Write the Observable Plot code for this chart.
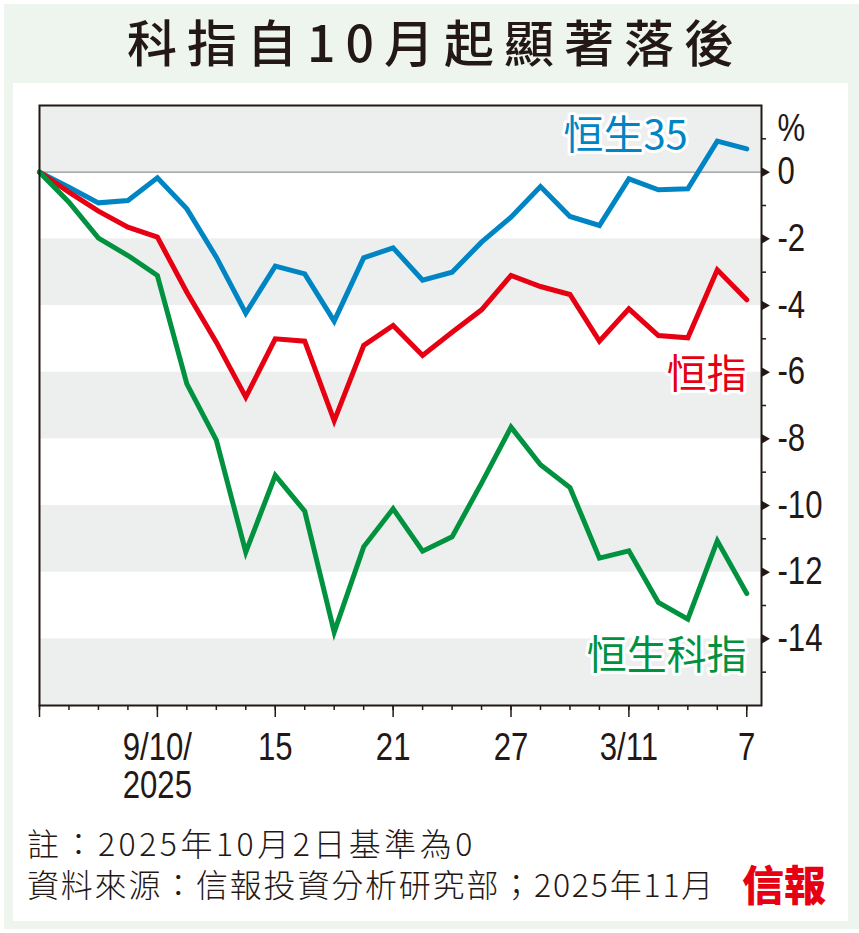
<!DOCTYPE html>
<html><head><meta charset="utf-8">
<script src="https://cdn.jsdelivr.net/npm/d3@7"></script>
<script src="https://cdn.jsdelivr.net/npm/@observablehq/plot@0.6"></script>
<style>
html,body{margin:0;padding:0;background:#fff;}
body{width:859px;height:933px;position:relative;overflow:hidden;}
#frame{position:absolute;left:4px;top:4px;width:855px;height:925px;background:#edf5ee;}
#panel{position:absolute;left:13px;top:83px;width:835px;height:838px;background:#fff;}
#title{position:absolute;left:0;top:-3px;width:859px;height:86px;line-height:86px;text-align:center;
  font-family:"Noto Sans CJK TC","Noto Sans CJK SC",sans-serif;font-weight:500;font-size:50px;letter-spacing:10px;padding-left:12px;box-sizing:border-box;color:#231815;}
#chart{position:absolute;left:0;top:83px;}
.note{position:absolute;left:27px;font-family:"Noto Sans CJK TC",sans-serif;font-weight:300;font-size:32px;line-height:36px;color:#231815;white-space:nowrap;}
#logo{position:absolute;left:742px;top:860px;font-family:"Noto Sans CJK TC",sans-serif;font-weight:900;font-size:42px;line-height:46px;color:#e60012;}
</style>
</head>
<body>
<div id="frame"></div>
<div id="panel"></div>
<div id="title">科指自10月起顯著落後</div>
<div id="chart"></div>
<div class="note" style="top:824px;letter-spacing:3.5px">註：2025年10月2日基準為0</div>
<div class="note" style="top:865px;letter-spacing:1.8px">資料來源：信報投資分析研究部；2025年11月</div>
<div id="logo">信報</div>
<script>
const dates = ["2/10","3/10","6/10","8/10","9/10","10/10","13/10","14/10","15/10","16/10","17/10","20/10","21/10","22/10","23/10","24/10","27/10","28/10","30/10","31/10","3/11","4/11","5/11","6/11","7/11"];
const hs35   = [0,-0.45,-0.92,-0.85,-0.17,-1.10,-2.55,-4.23,-2.82,-3.05,-4.47,-2.57,-2.27,-3.24,-3.00,-2.10,-1.35,-0.43,-1.33,-1.60,-0.20,-0.53,-0.50,0.93,0.70];
const hsi    = [0,-0.60,-1.17,-1.65,-1.95,-3.60,-5.10,-6.75,-5.00,-5.07,-7.46,-5.20,-4.60,-5.50,-4.80,-4.13,-3.10,-3.43,-3.67,-5.07,-4.10,-4.90,-4.97,-2.93,-3.83];
const hstech = [0,-0.90,-1.98,-2.50,-3.10,-6.35,-8.04,-11.40,-9.10,-10.17,-13.80,-11.24,-10.10,-11.37,-10.94,-9.33,-7.65,-8.78,-9.46,-11.58,-11.36,-12.91,-13.41,-11.06,-12.64];
const seriesNames = ["恒生35","恒指","恒生科指"];
const seriesColors = ["#0085c4","#e60012","#00923f"];
const tickDates = ["9/10","15/10","21/10","27/10","3/11","7/11"];
const tickTexts = ["9/10/\n2025","15","21","27","3/11","7"];
const yTicks = [0,-2,-4,-6,-8,-10,-12,-14];
const yMinor = [1,-1,-3,-5,-7,-9,-11,-13,-15];
const bandLows = [0,-4,-8,-12,-16];
const yDomain = [-16, 2];

const seriesValues = [hs35, hsi, hstech];
const rows = [];
seriesValues.forEach((vals, k) => vals.forEach((v, i) => rows.push({i, date: dates[i], series: seriesNames[k], value: v})));

const idx = dates.map((d, i) => i);
const tickIdx = tickDates.map(d => dates.indexOf(d));
const majorIdx = [0, ...tickIdx];
const labelFor = i => { const k = tickIdx.indexOf(i); return k < 0 ? "" : tickTexts[k]; };
const numFont = "'Liberation Sans',Arial,sans-serif";
const cjkFont = "'Noto Sans CJK TC','Noto Sans CJK SC',sans-serif";
const ink = "#231815";
const last = dates.length - 1;

const chart = Plot.plot({
  width: 859, height: 730,
  marginLeft: 39, marginRight: 98, marginTop: 22, marginBottom: 108,
  style: {background: "transparent", color: ink, overflow: "visible"},
  x: {type: "linear", domain: [0, last + 0.5]},
  y: {domain: yDomain},
  color: {domain: seriesNames, range: seriesColors},
  marks: [
    Plot.rect(bandLows, {y1: d => d, y2: d => d + 2, fill: "#edefee"}),
    Plot.ruleY([0], {stroke: "#8f8f8f", strokeWidth: 1.2}),
    Plot.line(rows, {x: "i", y: "value", z: "series", stroke: "series", strokeWidth: 5, strokeLinejoin: "miter", strokeMiterlimit: 4}),
    Plot.frame({stroke: ink, strokeWidth: 2}),
    Plot.axisX(idx, {anchor: "bottom", tickSize: 5, strokeWidth: 1.5, stroke: ink, tickFormat: () => "", label: null}),
    Plot.axisX(majorIdx, {anchor: "bottom", tickSize: 12, tickPadding: 16, strokeWidth: 1.5, stroke: ink, tickFormat: labelFor, label: null, fontSize: 38, fontFamily: numFont, lineHeight: 1.0, fill: ink}),
    Plot.axisY(yMinor, {anchor: "right", tickSize: 4, strokeWidth: 1.5, stroke: ink, tickFormat: () => "", label: null}),
    Plot.axisY(yTicks, {anchor: "right", tickSize: 0, tickPadding: 16, tickFormat: d => String(d), label: null, fontSize: 38, fontFamily: numFont, fill: ink}),
    Plot.dot(yTicks, {y: d => d, frameAnchor: "right", dx: 3, symbol: "triangle", rotate: 90, r: 3.5, fill: ink}),
    Plot.text(["%"], {frameAnchor: "top-right", dx: 16, dy: 23, textAnchor: "start", lineAnchor: "middle", fontSize: 38, fontFamily: numFont, fill: ink}),
    Plot.text([{i: 22, v: hs35[22]}], {x: "i", y: "v", text: () => seriesNames[0], textAnchor: "end", dy: -53, fontSize: 40, fontFamily: cjkFont, fill: seriesColors[0], stroke: "white", strokeWidth: 6, paintOrder: "stroke"}),
    Plot.text([{i: last, v: hsi[last]}], {x: "i", y: "v", text: () => seriesNames[1], textAnchor: "end", dy: 75, fontSize: 40, fontFamily: cjkFont, fill: seriesColors[1], stroke: "white", strokeWidth: 6, paintOrder: "stroke"}),
    Plot.text([{i: last, v: hstech[last]}], {x: "i", y: "v", text: () => seriesNames[2], textAnchor: "end", dy: 63, fontSize: 40, fontFamily: cjkFont, fill: seriesColors[2], stroke: "white", strokeWidth: 6, paintOrder: "stroke"})
  ]
});
// condense the numeric labels horizontally, like the reference's narrow face
chart.querySelectorAll('text').forEach(t => {
  const isAxis = t.closest('g[aria-label="x-axis tick label"], g[aria-label="y-axis tick label"]');
  if (isAxis || t.textContent === "%") {
    if (t.dataset.sq) return;
    t.dataset.sq = "1";
    const tr = t.getAttribute("transform") || "";
    t.setAttribute("transform", (tr + " scale(0.82,1)").trim());
    if (!tr) {
      const x = +t.getAttribute("x") || 0;
      t.setAttribute("x", x / 0.82);
    }
  }
});
document.getElementById("chart").appendChild(chart);
</script>
</body></html>
